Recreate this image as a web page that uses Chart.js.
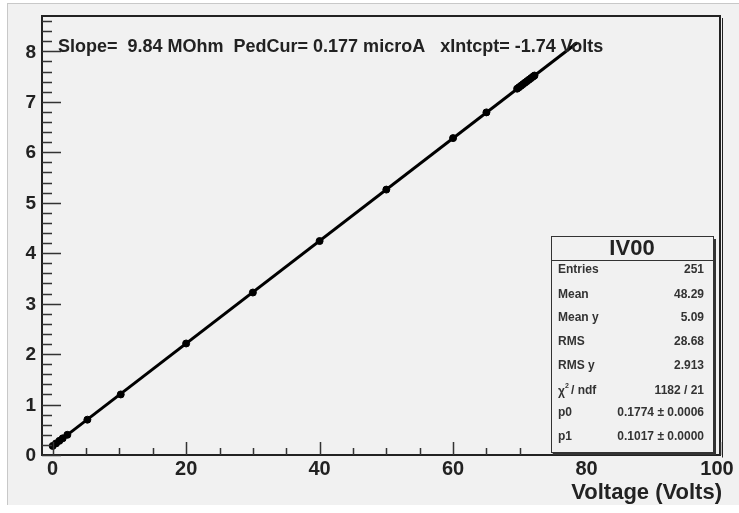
<!DOCTYPE html>
<html>
<head>
<meta charset="utf-8">
<script src="https://cdn.jsdelivr.net/npm/chart.js@4.4.1/dist/chart.umd.min.js"></script>
<style>
  html, body { margin: 0; padding: 0; background: #ffffff; }
  #wrap { position: relative; width: 739px; height: 513px; }
  canvas { display: block; }
</style>
</head>
<body>
<div id="wrap"><canvas id="c" width="739" height="513"></canvas></div>
<script>
// measured points (Voltage, current in microA)
const voltX = [0, 0.5, 1, 1.5, 2.2, 5.2, 10.2, 20, 30, 40, 50, 60, 65,
               69.6, 69.9, 70.2, 70.5, 70.8, 71.1, 71.4, 71.7, 72.0, 72.2];
const currY = [0.18, 0.23, 0.28, 0.33, 0.40, 0.70, 1.20, 2.21, 3.22, 4.24, 5.26, 6.28, 6.79,
               7.26, 7.29, 7.32, 7.35, 7.38, 7.41, 7.44, 7.47, 7.50, 7.52];

// fit line end points
const fitX = [0, 78.6];
const fitY = [0.177, 8.17];

const xTicks = [0, 20, 40, 60, 80, 100];
const yTicks = [0, 1, 2, 3, 4, 5, 6, 7, 8];

const statLabels = ['Entries', 'Mean', 'Mean y', 'RMS', 'RMS y', 'chi', 'p0', 'p1'];
const statValues = ['251', '48.29', '5.09', '28.68', '2.913', '1182 / 21', '0.1774 \u00b1 0.0006', '0.1017 \u00b1 0.0000'];

const fitText = 'Slope=  9.84 MOhm  PedCur= 0.177 microA   xIntcpt= -1.74 Volts';

const FONT = '"Liberation Sans", Arial, sans-serif';

const rootDecor = {
  id: 'rootDecor',
  beforeDraw(chart) {
    const ctx = chart.ctx;
    ctx.save();
    ctx.fillStyle = '#ffffff';
    ctx.fillRect(0, 0, chart.width, chart.height);
    ctx.fillStyle = '#f1f1f1';
    ctx.fillRect(7, 3, chart.width - 7, 502);
    ctx.strokeStyle = '#c8c8c8';
    ctx.lineWidth = 1;
    ctx.beginPath();
    ctx.moveTo(7.5, 3); ctx.lineTo(7.5, 505);
    ctx.moveTo(7, 3.5); ctx.lineTo(chart.width, 3.5);
    ctx.stroke();
    ctx.restore();
  },
  afterDraw(chart) {
    const ctx = chart.ctx;
    const a = chart.chartArea;
    const xs = chart.scales.x, ys = chart.scales.y;
    ctx.save();

    // frame with shadow
    ctx.strokeStyle = '#222';
    ctx.lineWidth = 2;
    ctx.strokeRect(a.left, a.top, a.right - a.left, a.bottom - a.top);
    ctx.lineWidth = 1;
    ctx.beginPath();
    ctx.moveTo(a.right + 2.5, a.top + 2); ctx.lineTo(a.right + 2.5, a.bottom + 2.5);
    ctx.stroke();

    // x ticks
    ctx.lineWidth = 1.5;
    ctx.strokeStyle = '#333';
    ctx.beginPath();
    for (let v = 0; v <= 100; v += 5) {
      const px = Math.round(xs.getPixelForValue(v)) + 0.5;
      const len = v % 20 === 0 ? 13 : 7;
      ctx.moveTo(px, a.bottom); ctx.lineTo(px, a.bottom - len);
    }
    // y ticks
    for (let v = 0; v <= 8.7; v += 0.2) {
      const py = Math.round(ys.getPixelForValue(v)) + 0.5;
      const major = Math.abs(v - Math.round(v)) < 1e-6;
      ctx.moveTo(a.left, py); ctx.lineTo(a.left + (major ? 19 : 10), py);
    }
    ctx.stroke();

    // tick labels
    ctx.fillStyle = '#222';
    ctx.font = 'bold 20px ' + FONT;
    ctx.textAlign = 'center';
    ctx.textBaseline = 'top';
    xTicks.forEach(v => ctx.fillText(String(v), xs.getPixelForValue(v) + (v === 100 ? -3 : 0), a.bottom + 4));
    ctx.font = 'bold 19px ' + FONT;
    ctx.textAlign = 'right';
    ctx.textBaseline = 'middle';
    yTicks.forEach(v => ctx.fillText(String(v), a.left - 6, ys.getPixelForValue(v) + 1));

    // axis title
    ctx.font = 'bold 22px ' + FONT;
    ctx.textAlign = 'right';
    ctx.textBaseline = 'alphabetic';
    ctx.fillText('Voltage (Volts)', a.right + 2, 499);

    // fit summary text
    ctx.font = 'bold 18px ' + FONT;
    ctx.textAlign = 'left';
    ctx.fillText(fitText, 58, 52);

    // stats box
    const bx = 551, by = 236, bw = 162, bh = 216;
    ctx.fillStyle = '#f1f1f1';
    ctx.fillRect(bx, by, bw, bh);
    ctx.strokeStyle = '#333';
    ctx.lineWidth = 1;
    ctx.strokeRect(bx + 0.5, by + 0.5, bw, bh);
    ctx.lineWidth = 2;
    ctx.beginPath();
    ctx.moveTo(bx + bw + 2, by + 3); ctx.lineTo(bx + bw + 2, by + bh + 2); ctx.lineTo(bx + 3, by + bh + 2);
    ctx.stroke();
    ctx.lineWidth = 1;
    ctx.beginPath();
    ctx.moveTo(bx, by + 24.5); ctx.lineTo(bx + bw, by + 24.5);
    ctx.stroke();
    ctx.fillStyle = '#222';
    ctx.font = 'bold 22px ' + FONT;
    ctx.textAlign = 'center';
    ctx.textBaseline = 'middle';
    ctx.fillText('IV00', bx + bw / 2, by + 13);
    ctx.fillStyle = '#333';
    const rowY = [270, 295, 318, 342, 366, 391, 413, 437];
    statLabels.forEach((lab, i) => {
      ctx.font = 'bold 12px ' + FONT;
      ctx.textAlign = 'left';
      if (lab === 'chi') {
        ctx.fillText('\u03c7', bx + 7, rowY[i] + 1);
        ctx.font = 'bold 7px ' + FONT;
        ctx.fillText('2', bx + 14, rowY[i] - 5);
        ctx.font = 'bold 12px ' + FONT;
        ctx.fillText('/ ndf', bx + 20, rowY[i]);
      } else {
        ctx.fillText(lab, bx + 7, rowY[i]);
      }
      ctx.textAlign = 'right';
      ctx.fillText(statValues[i], bx + bw - 9, rowY[i]);
    });

    ctx.restore();
  }
};

new Chart(document.getElementById('c').getContext('2d'), {
  type: 'scatter',
  data: {
    datasets: [
      {
        label: 'fit',
        type: 'line',
        data: fitX.map((x, i) => ({ x: x, y: fitY[i] })),
        borderColor: '#000',
        borderWidth: 3,
        pointRadius: 0,
        showLine: true,
        order: 2
      },
      {
        label: 'IV00',
        data: voltX.map((x, i) => ({ x: x, y: currY[i] })),
        backgroundColor: '#000',
        borderColor: '#000',
        pointRadius: 3.5,
        order: 1
      }
    ]
  },
  options: {
    responsive: false,
    animation: false,
    layout: { padding: { left: 42, top: 16, right: 19, bottom: 58 } },
    plugins: { legend: { display: false }, tooltip: { enabled: false } },
    scales: {
      x: { type: 'linear', min: -1.6, max: 100, display: false },
      y: { type: 'linear', min: 0, max: 8.7, display: false }
    }
  },
  plugins: [rootDecor]
});
</script>
</body>
</html>
